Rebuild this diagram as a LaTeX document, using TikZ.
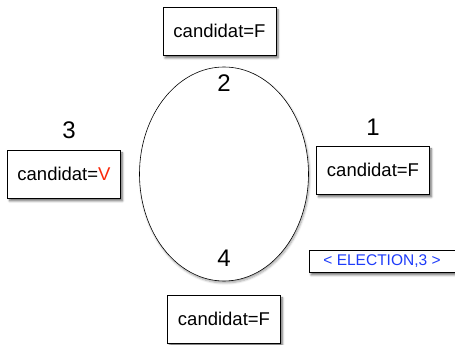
\documentclass[tikz,border=0pt]{standalone}
\usepackage{fontspec}
\setmainfont{Liberation Sans}
\usetikzlibrary{%
  shadows.blur,%
  shapes.geometric%
}
\definecolor{votered}{RGB}{250,40,10}
\definecolor{msgblue}{RGB}{30,60,250}
\tikzset{
  procbox/.style={draw,fill=white,line width=0.9pt,minimum width=113pt,
    minimum height=48pt,inner sep=0pt,font=\fontsize{18.5}{20}\selectfont,
    blur shadow={shadow xshift=2pt,shadow yshift=-3pt,shadow blur steps=6,shadow opacity=55}},
  msgbox/.style={draw,fill=white,line width=0.9pt,minimum width=152pt,
    minimum height=22pt,inner sep=0pt,text=msgblue,font=\fontsize{15.5}{17}\selectfont,
    blur shadow={shadow xshift=2pt,shadow yshift=-3pt,shadow blur steps=6,shadow opacity=55}},
  rank/.style={font=\fontsize{24}{26}\selectfont,inner sep=0pt}
}

\begin{document}
\begin{tikzpicture}[x=1pt,y=1pt]
        \useasboundingbox (0,0) rectangle (455,345);
        % the ring
        \node[draw,ellipse,fill=white,line width=0.6pt,minimum width=169pt,
        minimum height=214pt,inner sep=0pt,
        blur shadow={shadow xshift=1pt,shadow yshift=-2pt,shadow blur steps=6,shadow opacity=35}]
        (ring) at (224,171) {};
        % processes
        \node[procbox] (p2) at (219.5,314) {candidat=F};
        \node[procbox] (p3) at (64,171) {candidat=\textcolor{votered}{V}};
        \node[procbox] (p1) at (373,175) {candidat=F};
        \node[procbox] (p4) at (224,26) {candidat=F};
        \node[rank] (r2) at (224,262) {2};
        \node[rank] (r4) at (224,87) {4};
        \node[rank] (r3) at (69,215) {3};
        \node[rank] (r1) at (373,218) {1};
        % message in transit
        \node[msgbox] (msg) at (385,84) {\hspace*{-6pt}< ELECTION,3 >};
      \end{tikzpicture}
\end{document}
